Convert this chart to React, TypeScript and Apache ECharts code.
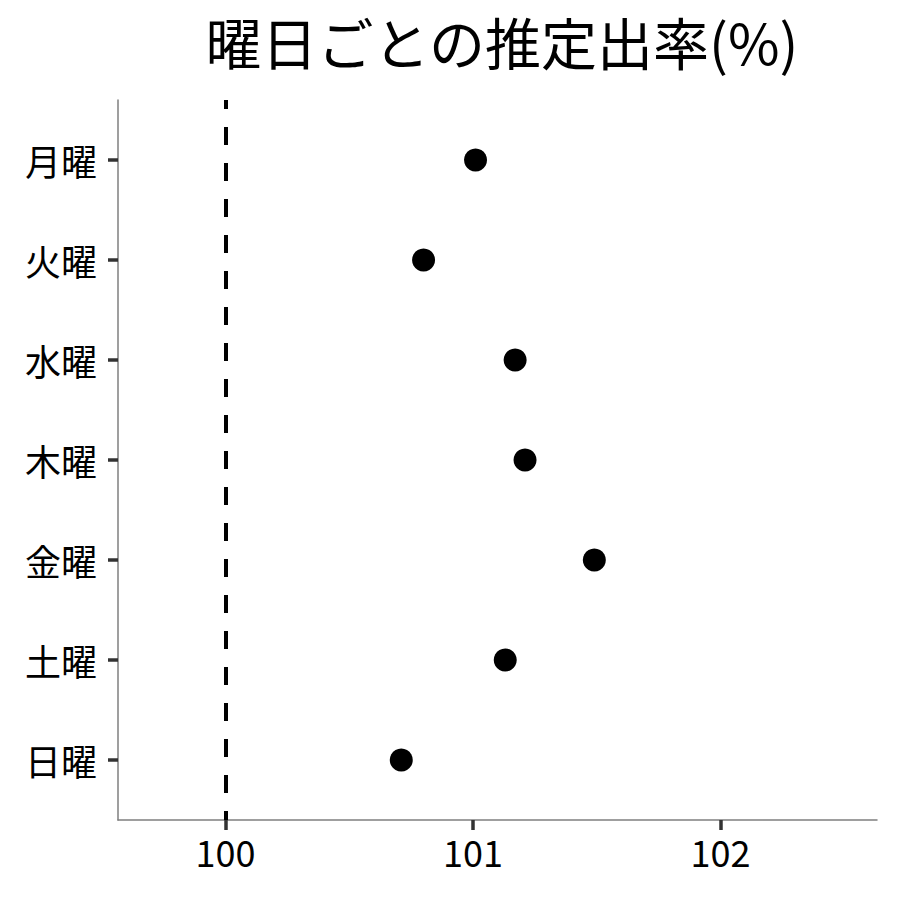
import { useEffect, useRef } from 'react';
import * as echarts from 'echarts';

// 曜日ごとの推定出率
const days = ['月曜', '火曜', '水曜', '木曜', '金曜', '土曜', '日曜'];
const rates = [101.01, 100.8, 101.17, 101.21, 101.49, 101.13, 100.71];
const xTicks = [100, 101, 102];
const refLine = 100;

const FONT = '"Noto Sans CJK JP", "Noto Sans", sans-serif';

export default function App() {
  const chartRef = useRef<HTMLDivElement>(null);

  useEffect(() => {
    if (!chartRef.current) return;
    const chart = echarts.init(chartRef.current, undefined, { renderer: 'svg' });

    const option: echarts.EChartsOption = {
      animation: false,
      backgroundColor: '#ffffff',
      textStyle: { fontFamily: FONT },
      title: {
        text: '曜日ごとの推定出率(%)',
        left: 497,
        textAlign: 'center',
        top: 7,
        textStyle: { fontFamily: FONT, fontSize: 56, fontWeight: 'normal', color: '#000' },
      },
      grid: { left: 118, right: 23, top: 100, bottom: 80 },
      xAxis: {
        type: 'value',
        min: 99.5655,
        max: 102.632,
        axisLine: { show: true, onZero: false, lineStyle: { color: '#7f7f7f', width: 1.5 } },
        axisTick: { show: true, length: 10, customValues: xTicks, lineStyle: { color: '#333', width: 3.5 } },
        axisLabel: {
          customValues: xTicks,
          fontSize: 36,
          color: '#000',
          margin: 13,
          fontFamily: FONT,
        },
        splitLine: { show: false },
      },
      yAxis: {
        type: 'value',
        inverse: true,
        min: -0.6,
        max: 6.6,
        axisLine: { show: true, onZero: false, lineStyle: { color: '#7f7f7f', width: 1.5 } },
        axisTick: {
          show: true,
          length: 10,
          customValues: days.map((_, i) => i),
          lineStyle: { color: '#333', width: 3.5 },
        },
        axisLabel: {
          customValues: days.map((_, i) => i),
          formatter: (v: number) => days[Math.round(v)] ?? '',
          fontSize: 36,
          color: '#000',
          margin: 21,
          fontFamily: FONT,
        },
        splitLine: { show: false },
      },
      series: [
        {
          type: 'scatter',
          symbol: 'circle',
          symbolSize: 23,
          itemStyle: { color: '#000', opacity: 1 },
          data: rates.map((r, i) => [r, i]),
          markLine: {
            silent: true,
            symbol: 'none',
            label: { show: false },
            lineStyle: { color: '#000', width: 4, type: [18, 18], dashOffset: 9 },
            data: [{ xAxis: refLine }],
          },
        },
      ],
    };

    chart.setOption(option);
    return () => chart.dispose();
  }, []);

  return <div ref={chartRef} style={{ width: 900, height: 900, margin: -8 }} />;
}
